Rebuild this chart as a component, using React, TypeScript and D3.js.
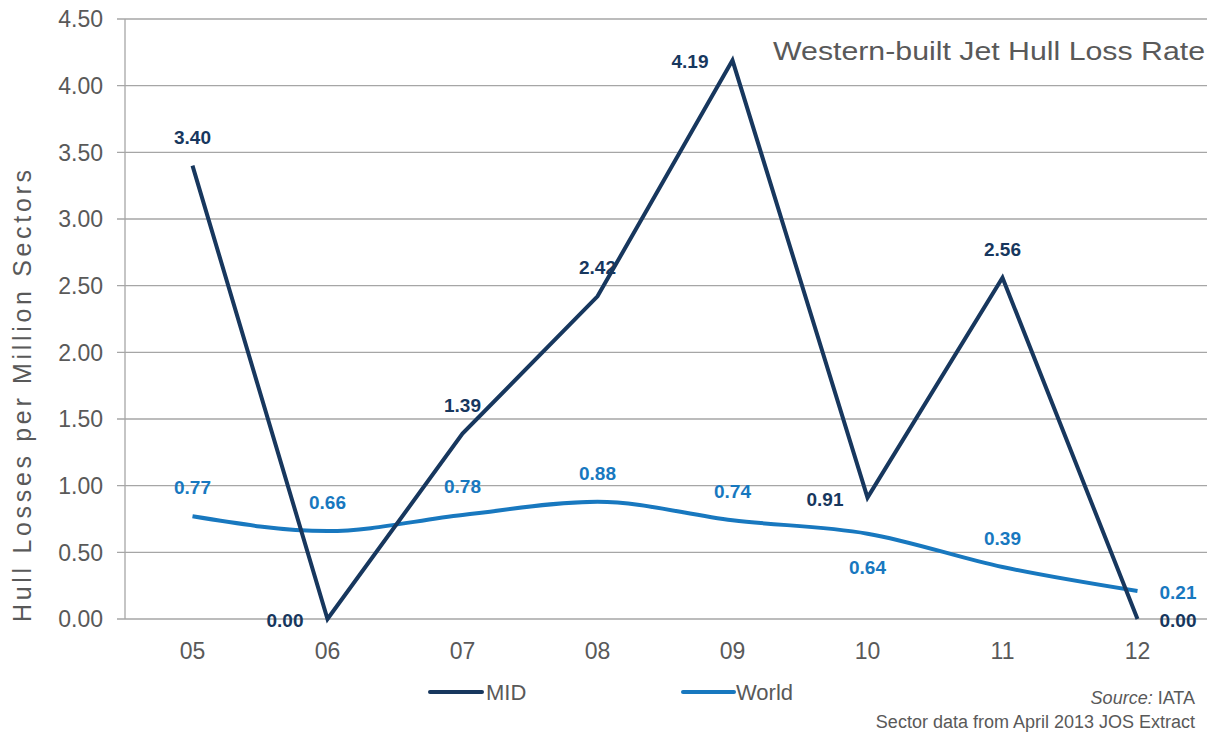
import React from "react";
import * as d3 from "d3";

// Years (two-digit) along the x axis
const years = ["05", "06", "07", "08", "09", "10", "11", "12"];
// Hull losses per million sectors
const midRates = [3.4, 0.0, 1.39, 2.42, 4.19, 0.91, 2.56, 0.0];
const worldRates = [0.77, 0.66, 0.78, 0.88, 0.74, 0.64, 0.39, 0.21];
// Y axis ticks
const yTicks = [0, 0.5, 1, 1.5, 2, 2.5, 3, 3.5, 4, 4.5];

// Where each data label sits relative to its point
const midLabelPlace = ["above", "left", "above", "above", "left", "left", "above", "right"];
const worldLabelPlace = ["above", "above", "above", "above", "above", "below", "above", "right"];

const W = 1225;
const H = 732;
const M = { left: 125, right: 1205, top: 19, bottom: 619 };

const MID_COLOR = "#17375E";
const WORLD_COLOR = "#1878BF";
const GRID = "#A6A6A6";
const TEXT = "#595959";
const FONT = "Arial, 'Liberation Sans', Helvetica, sans-serif";

export default function App() {
  const x = d3.scaleBand<string>().domain(years).range([M.left, M.right]).padding(0);
  const cx = (c: string) => (x(c) as number) + x.bandwidth() / 2;
  const y = d3.scaleLinear().domain([0, 4.5]).range([M.bottom, M.top]);

  const midLine = d3
    .line<number>()
    .x((_, i) => cx(years[i]))
    .y((d) => y(d))
    .curve(d3.curveLinear);
  const worldLine = d3
    .line<number>()
    .x((_, i) => cx(years[i]))
    .y((d) => y(d))
    .curve(d3.curveMonotoneX);

  const labelPos = (place: string, px: number, py: number) => {
    switch (place) {
      case "left":
        return { x: px - 24, y: py + 8, anchor: "end" };
      case "right":
        return { x: px + 22, y: py + 8, anchor: "start" };
      case "below":
        return { x: px, y: py + 40, anchor: "middle" };
      default:
        return { x: px, y: py - 22, anchor: "middle" };
    }
  };

  return (
    <svg width={W} height={H} style={{ display: "block", position: "absolute", left: 0, top: 0, background: "#fff" }}>
      {/* horizontal gridlines and y ticks */}
      {yTicks.map((t) => (
        <g key={t}>
          <line x1={M.left - 8} x2={1207} y1={y(t)} y2={y(t)} stroke={GRID} strokeWidth={1.3} />
          <text
            x={103}
            y={y(t)}
            dy="0.36em"
            textAnchor="end"
            fontFamily={FONT}
            fontSize={23}
            fill={TEXT}
          >
            {d3.format(".2f")(t)}
          </text>
        </g>
      ))}
      {/* y axis line */}
      <line x1={M.left} x2={M.left} y1={M.top} y2={M.bottom} stroke={GRID} strokeWidth={1.3} />

      {/* x tick labels */}
      {years.map((c) => (
        <text
          key={c}
          x={cx(c)}
          y={659}
          textAnchor="middle"
          fontFamily={FONT}
          fontSize={23}
          fill={TEXT}
        >
          {c}
        </text>
      ))}

      {/* y axis title */}
      <text
        transform={`translate(31, 396) rotate(-90)`}
        textAnchor="middle"
        fontFamily={FONT}
        fontSize={25}
        fill={TEXT}
        textLength={452}
        lengthAdjust="spacing"
      >
        Hull  Losses per Million Sectors
      </text>

      {/* chart title */}
      <text
        x={1205}
        y={60}
        textAnchor="end"
        fontFamily={FONT}
        fontSize={26}
        fill={TEXT}
        textLength={432}
        lengthAdjust="spacingAndGlyphs"
      >
        Western-built Jet Hull Loss Rate
      </text>

      {/* series lines */}
      <path d={worldLine(worldRates) || ""} fill="none" stroke={WORLD_COLOR} strokeWidth={4} strokeLinejoin="round" />
      <path d={midLine(midRates) || ""} fill="none" stroke={MID_COLOR} strokeWidth={4} strokeLinejoin="miter" />

      {/* data labels */}
      {midRates.map((v, i) => {
        const p = labelPos(midLabelPlace[i], cx(years[i]), y(v));
        return (
          <text
            key={"m" + i}
            x={p.x}
            y={p.y}
            textAnchor={p.anchor as any}
            fontFamily={FONT}
            fontSize={19}
            fontWeight="bold"
            fill={MID_COLOR}
          >
            {d3.format(".2f")(v)}
          </text>
        );
      })}
      {worldRates.map((v, i) => {
        const p = labelPos(worldLabelPlace[i], cx(years[i]), y(v));
        return (
          <text
            key={"w" + i}
            x={p.x}
            y={p.y}
            textAnchor={p.anchor as any}
            fontFamily={FONT}
            fontSize={19}
            fontWeight="bold"
            fill={WORLD_COLOR}
          >
            {d3.format(".2f")(v)}
          </text>
        );
      })}

      {/* legend */}
      <line x1={430} x2={482} y1={692} y2={692} stroke={MID_COLOR} strokeWidth={4} strokeLinecap="round" />
      <text x={486} y={700} fontFamily={FONT} fontSize={22} fill={TEXT}>
        MID
      </text>
      <line x1={683} x2={734} y1={692} y2={692} stroke={WORLD_COLOR} strokeWidth={4} strokeLinecap="round" />
      <text x={736} y={700} fontFamily={FONT} fontSize={22} fill={TEXT}>
        World
      </text>

      {/* source note */}
      <text x={1195} y={704} textAnchor="end" fontFamily={FONT} fontSize={18} fill={TEXT}>
        <tspan fontStyle="italic">Source:</tspan> IATA
      </text>
      <text x={1195} y={728} textAnchor="end" fontFamily={FONT} fontSize={18} fill={TEXT}>
        Sector data from April 2013 JOS Extract
      </text>
    </svg>
  );
}
